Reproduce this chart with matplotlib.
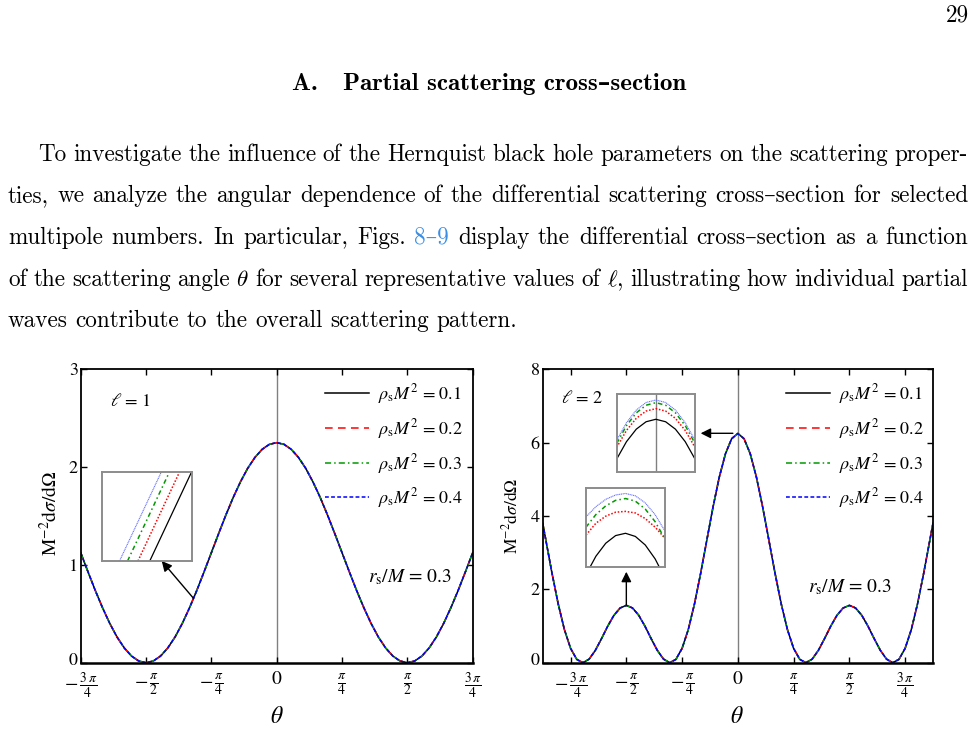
import numpy as np
import matplotlib
matplotlib.use("Agg")
import matplotlib.pyplot as plt
import matplotlib.transforms as mtransforms
from matplotlib.font_manager import FontProperties

# ---- values ----
theta_l1_deg = list(range(-135, 140, 5))
sigma_l1 = [1.125, 0.930, 0.740, 0.563, 0.402, 0.263, 0.151, 0.068, 0.017, 0.000,
            0.017, 0.068, 0.151, 0.263, 0.402, 0.563, 0.740, 0.930, 1.125, 1.320,
            1.510, 1.688, 1.848, 1.987, 2.099, 2.182, 2.233, 2.250, 2.233, 2.182,
            2.099, 1.987, 1.848, 1.688, 1.510, 1.320, 1.125, 0.930, 0.740, 0.563,
            0.402, 0.263, 0.151, 0.068, 0.017, 0.000, 0.017, 0.068, 0.151, 0.263,
            0.402, 0.563, 0.740, 0.930, 1.125]

theta_l2_deg = [-157.5] + list(range(-155, 160, 5)) + [157.5]
sigma_l2 = [3.806, 3.350, 2.441, 1.603, 0.904, 0.391, 0.090, 0.000, 0.098, 0.337,
            0.658, 0.998, 1.293, 1.492, 1.563, 1.492, 1.293, 0.998, 0.658, 0.337,
            0.098, 0.000, 0.090, 0.391, 0.904, 1.603, 2.441, 3.350, 4.249, 5.057,
            5.697, 6.108, 6.250, 6.108, 5.697, 5.057, 4.249, 3.350, 2.441, 1.603,
            0.904, 0.391, 0.090, 0.000, 0.098, 0.337, 0.658, 0.998, 1.293, 1.492,
            1.563, 1.492, 1.293, 0.998, 0.658, 0.337, 0.098, 0.000, 0.090, 0.391,
            0.904, 1.603, 2.441, 3.350, 3.806]

rho_values = [0.1, 0.2, 0.3, 0.4]
rs_over_M = 0.3

# zoomed insets (inset-local units 0..1), one row per rho value
inset_x = [0.0, 0.125, 0.25, 0.375, 0.5, 0.625, 0.75, 0.875, 1.0]
slope_bottom_x = [0.534, 0.403, 0.287, 0.198]
slope_top_x = [1.0, 0.866, 0.754, 0.664]
peak0_y = [[0.17, 0.393, 0.553, 0.648, 0.680, 0.648, 0.553, 0.393, 0.17],
           [0.32, 0.537, 0.692, 0.785, 0.816, 0.785, 0.692, 0.537, 0.32],
           [0.37, 0.599, 0.762, 0.860, 0.893, 0.860, 0.762, 0.599, 0.37],
           [0.41, 0.636, 0.798, 0.895, 0.927, 0.895, 0.798, 0.636, 0.41]]
peak90_y = [[-0.10, 0.132, 0.297, 0.394, 0.423, 0.383, 0.275, 0.099, -0.145],
            [0.40, 0.55, 0.64, 0.69, 0.700, 0.68, 0.61, 0.50, 0.36],
            [0.50, 0.66, 0.77, 0.84, 0.863, 0.83, 0.73, 0.57, 0.35],
            [0.63, 0.76, 0.853, 0.908, 0.927, 0.897, 0.808, 0.659, 0.45]]

xtick_vals = [-3 * np.pi / 4, -np.pi / 2, -np.pi / 4, 0, np.pi / 4, np.pi / 2, 3 * np.pi / 4]
xtick_labels = [r'$-\,\frac{3\,\pi}{4}$', r'$-\,\frac{\pi}{2}$', r'$-\,\frac{\pi}{4}$', '0',
                r'$\frac{\pi}{4}$', r'$\frac{\pi}{2}$', r'$\frac{3\,\pi}{4}$']

colors = ['black', 'red', '#009900', 'blue']
main_dash = [None, (0, (5, 3.5)), (0, (4, 2, 1, 2)), (0, (2.5, 1.5))]
inset_style = [dict(color='black', lw=0.9),
               dict(color='red', lw=1.1, ls=(0, (1, 1.2))),
               dict(color='#009900', lw=1.1, ls=(0, (3, 2, 1, 2))),
               dict(color='#6670ff', lw=0.8, ls=(0, (1, 0.6)))]

paragraph = [
    ("To investigate the influence of the Hernquist black hole parameters on the scattering proper-", 38, False),
    ("ties, we analyze the angular dependence of the differential scattering cross–section for selected", 8, False),
    ("multipole numbers. In particular, Figs. 8–9 display the differential cross–section as a function", 8, False),
    (r"of the scattering angle $\theta$ for several representative values of $\ell$, illustrating how individual partial", 8, False),
    ("waves contribute to the overall scattering pattern.", 8, True),
]
para_baselines = [161, 202, 244, 286, 327]

plt.rcParams['mathtext.fontset'] = 'stix'
plt.rcParams['font.family'] = ['STIXGeneral', 'DejaVu Serif']

W, H = 976, 731
fig = plt.figure(figsize=(W / 100, H / 100), dpi=100)
renderer = fig.canvas.get_renderer()


def box(x0, y0, x1, y1):
    return [x0 / W, 1 - y1 / H, (x1 - x0) / W, (y1 - y0) / H]


def text_width(s, fp):
    t = fig.text(0, 0, s, fontproperties=fp)
    w = t.get_window_extent(renderer).width
    t.remove()
    return w


# ---- page text ----
body = FontProperties(family=['cmr10', 'DejaVu Serif'], size=10, math_fontfamily='cm')
last_words = paragraph[4][0].split(" ")
w10 = sum(text_width(w, body) for w in last_words)
n_sp = len(last_words) - 1
size = 510 / (w10 / 10 + n_sp * 0.333 * 100 / 72)
body.set_size(size)
space_px = 0.333 * size * 100 / 72

for (line, x0, last), yb in zip(paragraph, para_baselines):
    words = line.split(" ")
    texts = []
    for w in words:
        c = '#3a8ee6' if w == '8–9' else 'black'
        texts.append(fig.text(0, 1 - yb / H, w, fontproperties=body, color=c, va='baseline'))
    widths = [t.get_window_extent(renderer).width for t in texts]
    gap = space_px if last else (968 - x0 - sum(widths)) / (len(words) - 1)
    x = x0
    for t, wd in zip(texts, widths):
        t.set_x(x / W)
        x += wd + gap

head = FontProperties(family=['cmb10', 'DejaVu Serif'], weight='bold', size=10)
head_str = "A.   Partial scattering cross–section"
head.set_size(10 * 393 / text_width(head_str, head))
fig.text(292 / W, 1 - 90 / H, head_str, fontproperties=head, va='baseline')
fig.text(969 / W, 1 - 21 / H, "29", fontproperties=body, ha='right', va='baseline')

# ---- panels ----
panels = [
    dict(box=box(80.7, 369.3, 472.7, 662.7), th=theta_l1_deg, y=sigma_l1, xlim=(-3 * np.pi / 4, 3 * np.pi / 4),
         ylim=(0, 3), yticks=[0, 1, 2, 3], ell=r'$\ell$ = 1', ell_pos=(0.075, 0.889),
         rs_pos=(0.733, 0.292), ylab=(50, 513), ylab_size=14, xlab=277, leg_x=0.975),
    dict(box=box(542.7, 369.3, 933, 662.7), th=theta_l2_deg, y=sigma_l2, xlim=(-7 * np.pi / 8, 7 * np.pi / 8),
         ylim=(0, 8), yticks=[0, 2, 4, 6, 8], ell=r'$\ell$ = 2', ell_pos=(0.047, 0.902),
         rs_pos=(0.680, 0.258), ylab=(511, 516), ylab_size=12.5, xlab=737, leg_x=0.977),
]

axes = []
for p in panels:
    ax = fig.add_axes(p['box'])
    axes.append(ax)
    th = np.deg2rad(p['th'])
    for rho, c, ls in zip(rho_values, colors, main_dash):
        kw = dict(color=c, lw=1.1, label=r'$\rho_{\rm s}M^2$ = ' + f'{rho:g}')
        if ls is not None:
            kw['ls'] = ls
        ax.plot(th, p['y'], **kw)
    ax.axvline(0, color='#808080', lw=1.0, zorder=0.5)
    ax.set_xlim(*p['xlim'])
    ax.set_ylim(*p['ylim'])
    ax.set_xticks(xtick_vals)
    ax.set_xticklabels(xtick_labels, fontsize=14)
    ax.set_yticks(p['yticks'])
    ax.set_yticklabels([str(v) for v in p['yticks']], fontsize=13)
    ax.tick_params(direction='in', length=4, width=1, top=True, right=True, pad=2)
    ax.tick_params(axis='x', pad=6)
    for s in ax.spines.values():
        s.set_linewidth(1.3)
    ax.spines['bottom'].set_linewidth(1.8)
    ax.legend(loc='upper right', bbox_to_anchor=(p['leg_x'], 0.957), frameon=False, fontsize=13,
              handlelength=2.45, handletextpad=0.5, labelspacing=0.6, borderpad=0, borderaxespad=0)
    ax.text(*p['ell_pos'], p['ell'], transform=ax.transAxes, fontsize=13, va='center')
    ax.text(*p['rs_pos'], r'$r_{\rm s}/M$ = ' + f'{rs_over_M:g}', transform=ax.transAxes,
            fontsize=14, va='center')
    fig.text(p['ylab'][0] / W, 1 - p['ylab'][1] / H, r'$\mathrm{M}^{-2}\mathrm{d}\sigma/\mathrm{d}\Omega$',
             rotation=90, ha='center', va='center', fontsize=p['ylab_size'])
    fig.text(p['xlab'] / W, 1 - 717 / H, r'$\theta$', ha='center', va='center', fontsize=17)
    # nudge the "0" label up a little so it clears the first x label
    lbl = ax.get_yticklabels()[0]
    lbl.set_transform(lbl.get_transform() + mtransforms.ScaledTranslation(0, 2.5 / 72, fig.dpi_scale_trans))

ax1, ax2 = axes
arrow = dict(arrowstyle='-|>', color='black', lw=1.0, mutation_scale=15, shrinkA=0, shrinkB=0)
ax1.annotate('', xy=(-1.382, 1.04), xytext=(-1.0, 0.658), arrowprops=arrow)
ax2.annotate('', xy=(-0.524, 6.255), xytext=(-0.07, 6.255), arrowprops=arrow)
ax2.annotate('', xy=(-np.pi / 2, 2.48), xytext=(-np.pi / 2, 1.573), arrowprops=arrow)


def inset(rect):
    a = fig.add_axes(rect)
    a.set_xlim(0, 1)
    a.set_ylim(0, 1)
    a.set_xticks([])
    a.set_yticks([])
    for s in a.spines.values():
        s.set_color('#8c8c8c')
        s.set_linewidth(1.4)
    return a


ins1 = inset(box(101.7, 471.7, 191.7, 561))
for xb, xt, st in zip(slope_bottom_x, slope_top_x, inset_style):
    ins1.plot([xb, xt], [0, 1], **st)

ins2 = inset(box(616.7, 394.3, 695, 472.3))
ins2.axvline(0.506, color='#808080', lw=1.0)
for ys, st in zip(peak0_y, inset_style):
    ins2.plot(inset_x, ys, **st)

ins3 = inset(box(586, 487.7, 665, 566.7))
for ys, st in zip(peak90_y, inset_style):
    ins3.plot(inset_x, ys, **st)

fig.savefig('out.png', dpi=100)
